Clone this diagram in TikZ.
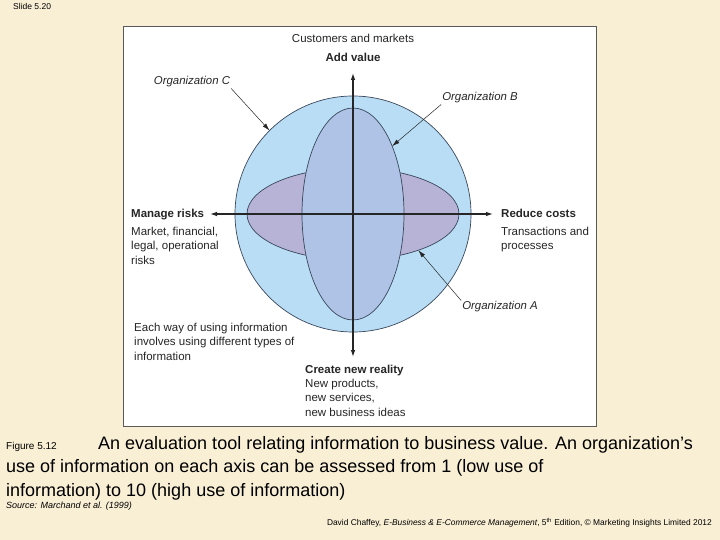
\documentclass[tikz,border=0pt]{standalone}
\usepackage{fontspec}
\setmainfont{Liberation Sans}
\usetikzlibrary{arrows.meta,positioning,calc,shapes.geometric}
\definecolor{cream}{HTML}{F9EFD5}
\definecolor{panelgray}{HTML}{5A5A5A}
\definecolor{outerblue}{HTML}{B9DDF5}
\definecolor{vertblue}{HTML}{AFC3E6}
\definecolor{horizlilac}{HTML}{B7B3D6}
\definecolor{edge}{HTML}{39475A}
\definecolor{ink}{HTML}{262626}

\begin{document}
\begin{tikzpicture}[
    x=1pt, y=-1pt,
    font=\rmfamily,
    >={Latex[length=7pt,width=4.6pt]},
    region/.style={draw=edge, line width=0.7pt, inner sep=0pt, outer sep=0pt},
    axis/.style={draw=ink, line width=1.2pt, <->},
    pointer/.style={draw=ink, line width=0.5pt,
                    -{Latex[length=7.5pt,width=4.4pt]}},
    head/.style={font=\fontsize{11.5}{14.5}\selectfont\bfseries, text=ink,
                 inner sep=0pt, anchor=base west},
    body/.style={font=\fontsize{11.5}{14.5}\selectfont, text=ink,
                 inner sep=0pt, align=left, anchor=north west},
    org/.style={font=\fontsize{11.4}{13}\selectfont\itshape, text=ink,
                inner sep=1pt},
  ]
  \useasboundingbox (0,0) rectangle (720,540);
  \fill[cream] (0,0) rectangle (720,540);

  \node[font=\fontsize{8.5}{10}\selectfont, anchor=base west, inner sep=0pt]
    (slide) at (13,10) {Slide 5.20};

  % White panel holding the figure.
  \draw[panelgray, fill=white, line width=0.8pt] (123,26) rectangle (596,426);

  % Circle and the two overlapping ellipses.
  \node[region, circle, fill=outerblue, minimum size=236pt] (outer) at (353,214) {};
  \node[region, ellipse, fill=horizlilac, minimum width=212pt, minimum height=92pt]
    (hell) at (353,214) {};
  \node[region, ellipse, fill=vertblue, minimum width=102pt, minimum height=212pt]
    (vell) at (353,214) {};

  % Axes.
  \coordinate (ytop) at (353,73);
  \coordinate (ybot) at (353,357);
  \coordinate (xleft) at (210,214);
  \coordinate (xright) at (493,214);
  \draw[axis] (ybot) -- (ytop);
  \draw[axis] (xleft) -- (xright);

  % Axis labels.
  \node[font=\fontsize{11.5}{13}\selectfont, text=ink, inner sep=0pt, anchor=base]
    (cust) at (353,43) {Customers and markets};
  \node[head, anchor=base] (addv) at (353,62) {Add value};

  \node[head] (risk) at (131,218) {Manage risks};
  \node[body] (riskb) at (131,226.6)
    {Market, financial,\\legal, operational\\risks};

  \node[head] (cost) at (501,218) {Reduce costs};
  \node[body] (costb) at (501,226.6) {Transactions and\\processes};

  \node[head] (newr) at (305,373) {Create new reality};
  \node[body] (newrb) at (305,378.6)
    {New products,\\new services,\\new business ideas};

  \node[body] (each) at (134,322.6)
    {Each way of using information\\involves using different types of\\information};

  % Organization pointers.
  \node[org] (orgC) at (192,82) {Organization C};
  \node[org] (orgB) at (480,98) {Organization B};
  \node[org] (orgA) at (500,307) {Organization A};
  \draw[pointer] (orgC.south east) -- (outer.135);
  \draw[pointer] (orgB.south west) -- (vell.60);
  \draw[pointer] (orgA.north west) -- (hell.-29);

  % Caption and credits.
  \node[anchor=base west, inner sep=0pt, align=left,
        font=\fontsize{18}{23.5}\selectfont]
    (caption) at (6,496)
    {\makebox[92pt][l]{\fontsize{10}{12}\selectfont Figure 5.12}An evaluation tool
     relating information to business value. An organization’s\\
     use of information on each axis can be assessed from 1 (low use of\\
     information) to 10 (high use of information)};
  \node[anchor=base west, inner sep=0pt, font=\fontsize{9}{10}\selectfont\itshape]
    (source) at (6,508) {Source: Marchand et al. (1999)};
  \node[anchor=base east, inner sep=0pt, font=\fontsize{8.4}{10}\selectfont]
    (credit) at (712,525)
    {David Chaffey, \textit{E-Business \& E-Commerce Management}, 5\textsuperscript{th}
     Edition, © Marketing Insights Limited 2012};
\end{tikzpicture}
\end{document}
